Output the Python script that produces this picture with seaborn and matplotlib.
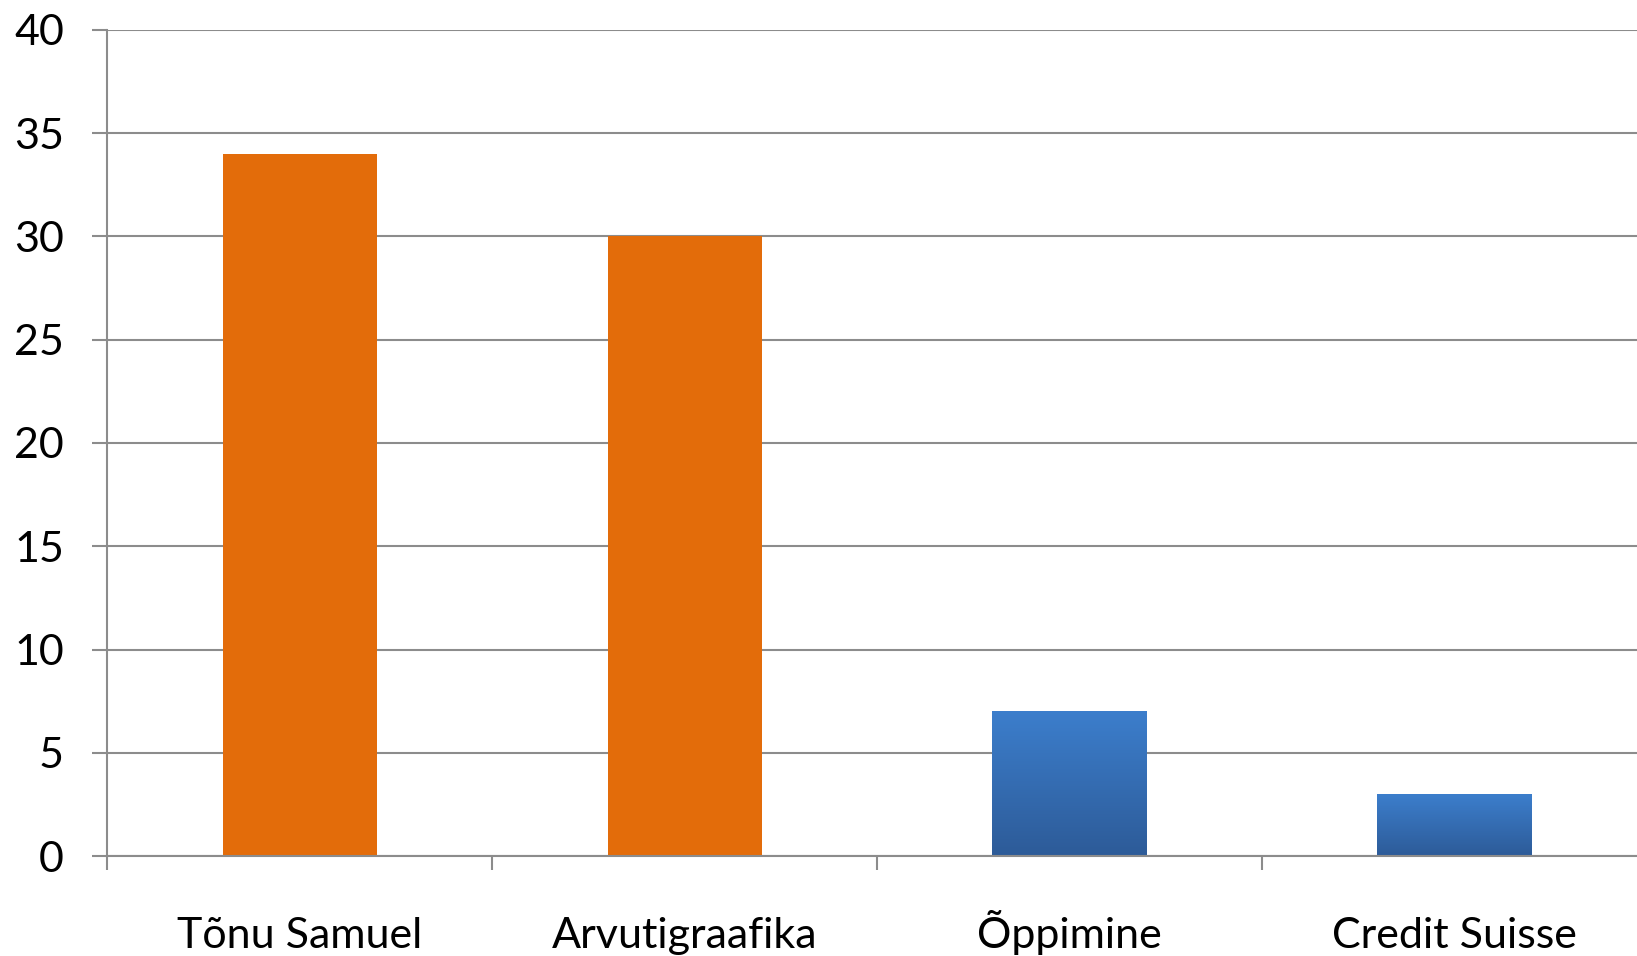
import numpy as np
import pandas as pd
import matplotlib
matplotlib.use("Agg")
import matplotlib.pyplot as plt
import seaborn as sns
from matplotlib.colors import LinearSegmentedColormap

# Data
categories = ["Tõnu Samuel", "Arvutigraafika", "Õppimine", "Credit Suisse"]
values = [34, 30, 7, 3]
bar_colors = ["#E36C0A", "#E36C0A", "#3A7BCB", "#3A7BCB"]
y_ticks = [0, 5, 10, 15, 20, 25, 30, 35, 40]

df = pd.DataFrame({"category": categories, "value": values})

sns.set_style("white")
plt.rcParams["font.family"] = ["Lato", "DejaVu Sans"]

fig = plt.figure(figsize=(16.37, 9.56), dpi=100)
# axes runs slightly past the right edge, like the reference
ax = fig.add_axes([107 / 1637, 1 - 856 / 956, (1647 - 107) / 1637, (856 - 30) / 956])

sns.barplot(data=df, x="category", y="value", hue="category",
            palette=bar_colors, width=0.4, saturation=1, legend=False, ax=ax)

grid_col = "#8C8C8C"
ax.set_ylim(0, 40)
ax.set_xlim(-0.5, 3.5)
ax.set_yticks(y_ticks)
ax.yaxis.grid(True, color=grid_col, linewidth=1.5)
ax.set_axisbelow(True)
ax.set_xlabel("")
ax.set_ylabel("")

for s in ["top", "right"]:
    ax.spines[s].set_visible(False)
for s in ["left", "bottom"]:
    ax.spines[s].set_color(grid_col)
    ax.spines[s].set_linewidth(1.5)

# category boundaries as ticks on the x axis
ax.set_xticks([-0.5, 0.5, 1.5, 2.5, 3.5], minor=False)
ax.set_xticklabels([])
ax.set_xticks([0, 1, 2, 3], minor=True)
ax.set_xticklabels(categories, minor=True)
ax.tick_params(axis="x", which="major", bottom=True, length=10, width=1.5,
               color=grid_col, direction="out")
ax.tick_params(axis="x", which="minor", bottom=True, length=0, pad=66,
               labelsize=31, labelcolor="black")
# same baseline for all category labels (Õ would otherwise push its label down)
for lab in ax.get_xticklabels(minor=True):
    lab.set_verticalalignment("baseline")
ax.tick_params(axis="y", left=True, length=11, width=1.5, color=grid_col,
               pad=20, labelsize=31, labelcolor="black")

# blue bars get a vertical gradient
grad = np.linspace(0, 1, 256).reshape(-1, 1)
cmap = LinearSegmentedColormap.from_list("bl", ["#2D5B98", "#3C7ECC"])
for patch, col in zip(ax.patches, bar_colors):
    patch.set_edgecolor("none")
    if col == "#3A7BCB":
        x0, y0 = patch.get_x(), patch.get_y()
        w, h = patch.get_width(), patch.get_height()
        im = ax.imshow(grad, extent=[x0, x0 + w, y0, y0 + h], origin="lower",
                       cmap=cmap, aspect="auto", zorder=patch.get_zorder() + 0.1)
        im.set_clip_path(patch)

ax.set_xlim(-0.5, 3.5)
ax.set_ylim(0, 40)

fig.savefig("out.png", dpi=100)
